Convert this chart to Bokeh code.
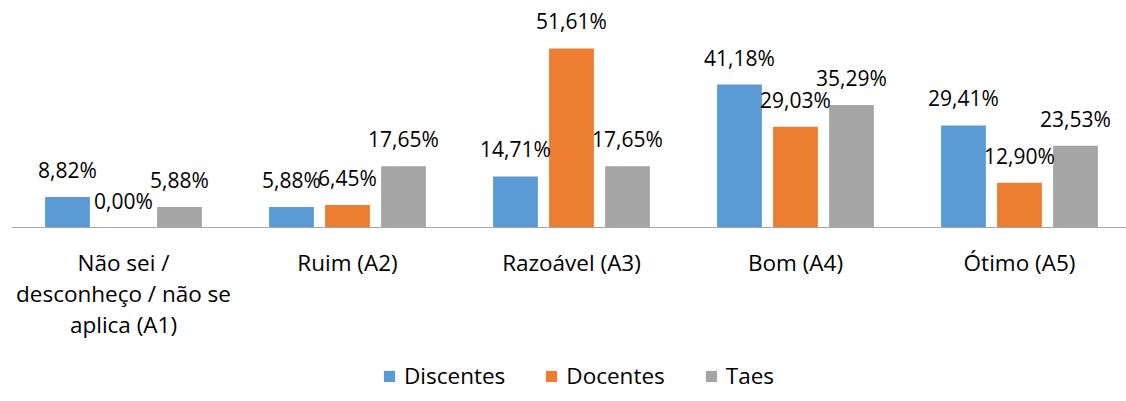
from bokeh.plotting import figure
from bokeh.models import Range1d, ColumnDataSource, LabelSet, Legend, LegendItem, Span
from bokeh.core.properties import value
from bokeh.transform import dodge
from bokeh.embed import file_html
from bokeh.resources import INLINE

# ---- data ----
categories = ["Não sei /\ndesconheço / não se\naplica (A1)", "Ruim (A2)", "Razoável (A3)", "Bom (A4)", "Ótimo (A5)"]
series_names = ["Discentes", "Docentes", "Taes"]
discentes = [8.82, 5.88, 14.71, 41.18, 29.41]
docentes = [0.00, 6.45, 51.61, 29.03, 12.90]
taes = [5.88, 17.65, 17.65, 35.29, 23.53]
colors = ["#5B9BD5", "#ED7D31", "#A5A5A5"]

# ---- layout ----
FONT = "Open Sans"
CAT_PX = 224
W, H = 1126, 401
LEFT = 11
FRAME_W = W - LEFT
BASE_Y = 227          # baseline distance from frame top (px)
PX_PER_PCT = 3.47

p = figure(width=W, height=H, output_backend="svg", toolbar_location=None,
           x_range=Range1d(-0.5, -0.5 + FRAME_W / CAT_PX),
           y_range=Range1d(-(H - BASE_Y) / PX_PER_PCT, BASE_Y / PX_PER_PCT),
           x_axis_location=None, y_axis_location=None,
           min_border_left=LEFT, min_border_right=0, min_border_top=0, min_border_bottom=0)
p.outline_line_color = None
p.xgrid.visible = False
p.ygrid.visible = False
p.background_fill_color = "white"
p.border_fill_color = "white"

# baseline (category axis line)
p.add_layout(Span(location=0, dimension="width", line_color="#A6A6A6", line_width=1))

offsets = [-0.25, 0.0, 0.25]
renderers = []
for name, vals, col, off in zip(series_names, [discentes, docentes, taes], colors, offsets):
    src = ColumnDataSource(dict(
        x=list(range(len(categories))),
        v=vals,
        lab=[f"{v:.2f}".replace(".", ",") + "%" for v in vals],
    ))
    r = p.vbar(x=dodge("x", off, range=p.x_range), top="v", bottom=0, width=0.2,
               source=src, fill_color=col, line_color=None)
    renderers.append(r)
    labels = LabelSet(x=dodge("x", off, range=p.x_range), y="v", text="lab", source=src,
                      text_align="center", text_baseline="alphabetic", y_offset=19,
                      text_font=value(FONT), text_font_size="21px", text_color="#000000")
    p.add_layout(labels)

# category labels under the baseline
cat_src = ColumnDataSource(dict(x=list(range(len(categories))), y=[0] * len(categories), t=categories))
p.text(x="x", y="y", text="t", source=cat_src, text_align="center", text_baseline="top",
       y_offset=19, text_font=value(FONT), text_font_size="22.5px", text_color="#000000",
       text_line_height=1.01)

legend = Legend(items=[LegendItem(label=n, renderers=[r]) for n, r in zip(series_names, renderers)],
                orientation="horizontal", location=(371, 10),
                glyph_width=14, glyph_height=14, label_standoff=8, spacing=39,
                padding=0, margin=0, border_line_color=None, background_fill_alpha=0,
                label_text_font=FONT, label_text_font_size="22.5px", label_text_color="#000000")
p.add_layout(legend)

open("out.html", "w").write(file_html(p, INLINE))
